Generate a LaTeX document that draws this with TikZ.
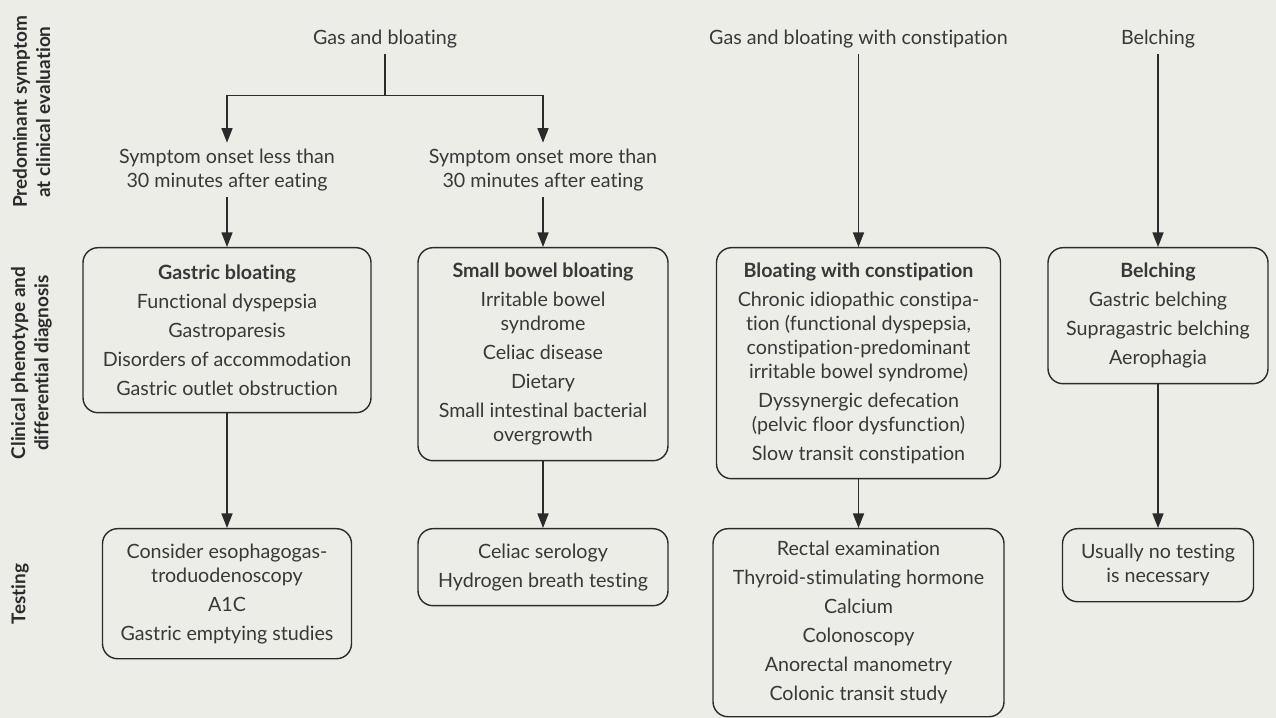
\documentclass[tikz,border=0pt]{standalone}
\usepackage{fontspec}
\setmainfont{Lato}[Ligatures={NoCommon}]
\usepackage{tikz}
\usetikzlibrary{positioning, arrows.meta}

\definecolor{bgpaper}{HTML}{EDEDE8}
\definecolor{inkline}{HTML}{2B2B2B}
\definecolor{inktext}{HTML}{383838}

\newcommand{\brk}{\\[-2.8pt]}

\begin{document}
\begin{tikzpicture}[
        rowlabel/.style={rotate=90, align=center, font=\fontsize{10.8}{13.2}\selectfont\bfseries, text=inkline},
        symptom/.style={align=center, font=\fontsize{11.2}{13.7}\selectfont, text=inktext},
        phenobox/.style={draw=inkline, line width=0.8pt, rounded corners=0.3cm, anchor=north, align=center, text=inktext, font=\fontsize{11.2}{16.5}\selectfont},
        line/.style={draw=inkline, line width=0.8pt},
        arrow/.style={line, -{Triangle[length=0.29cm, width=0.22cm]}}
    ]
        \fill[bgpaper] (0,0) rectangle (25.52,-14.36);
        \useasboundingbox (0,0) rectangle (25.52,-14.36);

        % row labels
        \node[rowlabel] (row1) at (0.63,-2.24) {Predominant symptom\\at clinical evaluation};
        \node[rowlabel] (row2) at (0.63,-7.26) {Clinical phenotype and\\differential diagnosis};
        \node[rowlabel] (row3) at (0.40,-11.88) {Testing};

        % predominant symptom
        \node[symptom] (gas) at (7.70,-0.78) {Gas and bloating};
        \node[symptom] (gascon) at (17.17,-0.78) {Gas and bloating with constipation};
        \node[symptom] (belch) at (23.16,-0.78) {Belching};

        \node[symptom] (early) at (4.54,-3.40) {Symptom onset less than\\30 minutes after eating};
        \node[symptom] (late) at (10.86,-3.40) {Symptom onset more than\\30 minutes after eating};

        % clinical phenotype
        \node[phenobox, minimum width=5.76cm, minimum height=3.30cm] (gastric) at (4.54,-4.94) {%
            \textbf{Gastric bloating}\\
            Functional dyspepsia\\
            Gastroparesis\\
            Disorders of accommodation\\
            Gastric outlet obstruction};
        \node[phenobox, minimum width=5.00cm, minimum height=4.26cm] (bowel) at (10.86,-4.94) {%
            \textbf{Small bowel bloating}\\
            Irritable bowel\brk syndrome\\
            Celiac disease\\
            Dietary\\
            Small intestinal bacterial\brk overgrowth};
        \node[phenobox, minimum width=5.68cm, minimum height=4.62cm] (constip) at (17.17,-4.94) {%
            \textbf{Bloating with constipation}\\
            Chronic idiopathic constipa-\brk tion (functional dyspepsia,\brk constipation-predominant\brk irritable bowel syndrome)\\
            Dyssynergic defecation\brk (pelvic floor dysfunction)\\
            Slow transit constipation};
        \node[phenobox, minimum width=4.40cm, minimum height=2.72cm] (belching) at (23.16,-4.94) {%
            \textbf{Belching}\\
            Gastric belching\\
            Supragastric belching\\
            Aerophagia};

        % testing
        \node[phenobox, minimum width=4.98cm, minimum height=2.60cm] (testgastric) at (4.54,-10.56) {%
            Consider esophagogas-\brk troduodenoscopy\\
            A1C\\
            Gastric emptying studies};
        \node[phenobox, minimum width=5.00cm, minimum height=1.54cm] (testbowel) at (10.86,-10.56) {%
            Celiac serology\\
            Hydrogen breath testing};
        \node[phenobox, minimum width=5.82cm, minimum height=3.76cm] (testconstip) at (17.17,-10.56) {%
            Rectal examination\\
            Thyroid-stimulating hormone\\
            Calcium\\
            Colonoscopy\\
            Anorectal manometry\\
            Colonic transit study};
        \node[phenobox, minimum width=3.82cm, minimum height=1.46cm] (testbelch) at (23.16,-10.56) {%
            Usually no testing\brk is necessary};

        % connectors
        \draw[line] (gas.south) -- ++(0,-0.82) coordinate (fork);
        \draw[arrow] (fork) -| (early.north);
        \draw[arrow] (fork) -| (late.north);
        \draw[arrow] (early) -- (gastric);
        \draw[arrow] (late) -- (bowel);
        \draw[arrow] (gascon) -- (constip);
        \draw[arrow] (belch) -- (belching);

        \draw[arrow] (gastric) -- (testgastric);
        \draw[arrow] (bowel) -- (testbowel);
        \draw[arrow] (constip) -- (testconstip);
        \draw[arrow] (belching) -- (testbelch);
    \end{tikzpicture}
\end{document}
